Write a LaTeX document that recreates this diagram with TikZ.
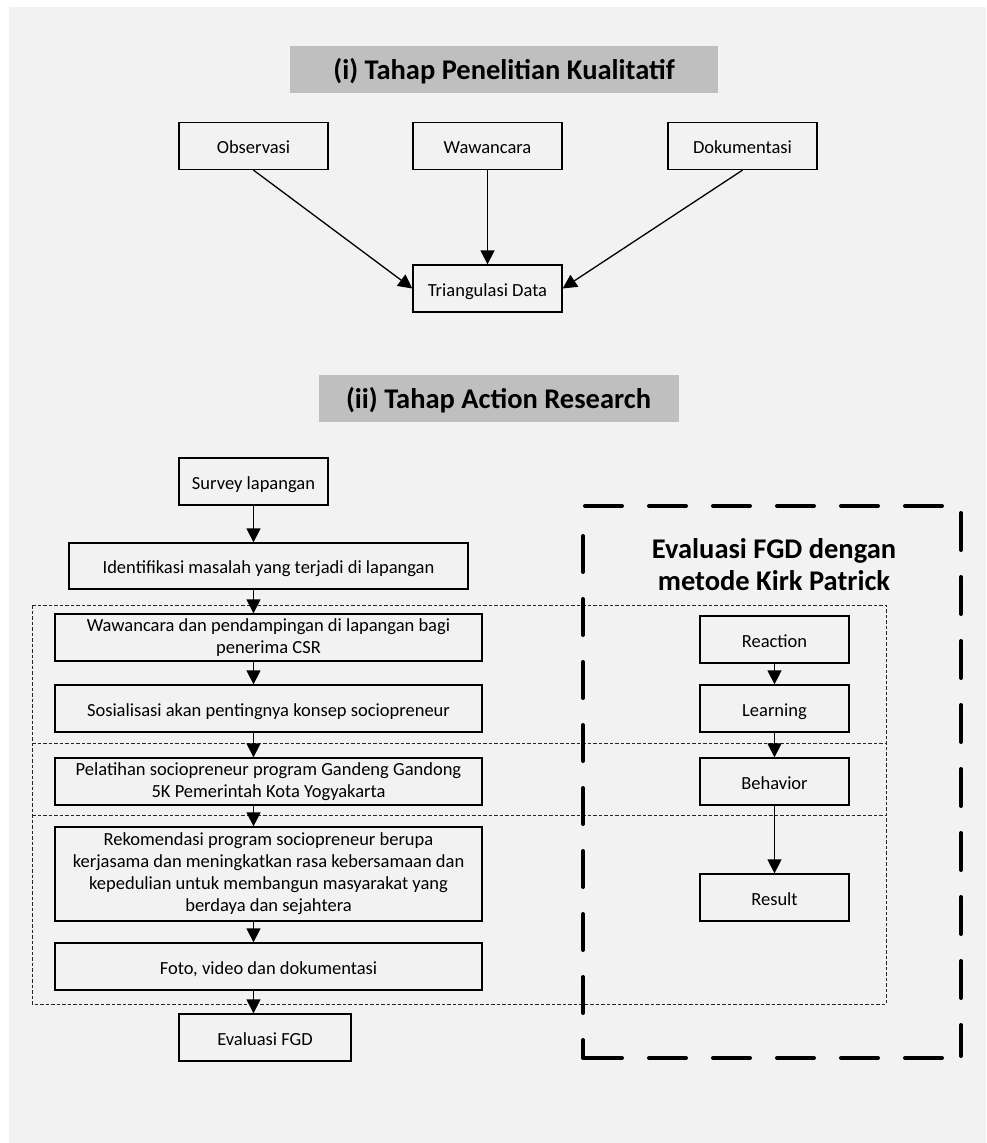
\documentclass[tikz,border=0pt]{standalone}
\usepackage{fontspec}
\setmainfont{Carlito}
\usetikzlibrary{arrows.meta}
\definecolor{bggray}{HTML}{F2F2F2}
\definecolor{titlegray}{HTML}{BFBFBF}
\begin{document}
\begin{tikzpicture}[x=1pt,y=-1pt,
  box/.style={draw=black, line width=1.3pt, inner sep=0pt, align=center,
    font=\fontsize{18.5}{22}\selectfont},
  onel/.style={text height=15pt, text depth=0pt},
  stdbox/.style={box, onel, minimum width=149pt, minimum height=47pt},
  widebox/.style={box, minimum width=427pt, minimum height=47pt},
  titlebox/.style={fill=titlegray, inner sep=0pt, text height=20pt, text depth=0pt,
    font=\bfseries\fontsize{28.5}{32}\selectfont},
  arr/.style={line width=1.3pt, -{Triangle[length=14pt,width=14pt]}},
  thindash/.style={draw=black!85, line width=0.8pt, dash pattern=on 3.5pt off 2pt},
  bigdash/.style={line width=4pt, line cap=round, dash pattern=on 37pt off 27pt}]
\useasboundingbox (0,0) rectangle (986,1143);
\fill[white] (0,0) rectangle (986,1143);
\fill[bggray] (9,7) rectangle (986,1143);

% Section (i)
\node[titlebox, minimum width=428pt, minimum height=47pt] (t1) at (504,69.5) {(i) Tahap Penelitian Kualitatif};
\node[stdbox] (obs) at (253.5,146) {Observasi};
\node[stdbox] (waw) at (487.5,146) {Wawancara};
\node[stdbox] (dok) at (742.5,146) {Dokumentasi};
\node[stdbox] (tri) at (487.5,288.5) {Triangulasi Data};
\draw[arr] (obs.south) -- (tri.west);
\draw[arr] (waw.south) -- (tri.north);
\draw[arr] (dok.south) -- (tri.east);

% Section (ii)
\node[titlebox, minimum width=360pt, minimum height=47pt] (t2) at (498.5,398.5) {(ii) Tahap Action Research};

% thin dashed container
\draw[thindash] (32,605) rectangle (886,1004);
\draw[thindash] (32,743) -- (886,743);
\draw[thindash] (32,815) -- (886,815);

\node[stdbox] (survey) at (253.5,481.5) {Survey lapangan};
\node[box, onel, minimum width=399pt, minimum height=46pt] (ident) at (268.5,566) {Identifikasi masalah yang terjadi di lapangan};
\node[widebox] (wp) at (268.5,637.5) {Wawancara dan pendampingan di lapangan bagi\\penerima CSR};
\node[widebox, onel] (sos) at (268.5,708.5) {Sosialisasi akan pentingnya konsep sociopreneur};
\node[widebox] (pel) at (268.5,781.5) {Pelatihan sociopreneur program Gandeng Gandong\\5K Pemerintah Kota Yogyakarta};
\node[widebox, minimum height=94pt] (rek) at (268.5,874) {Rekomendasi program sociopreneur berupa\\kerjasama dan meningkatkan rasa kebersamaan dan\\kepedulian untuk membangun masyarakat yang\\berdaya dan sejahtera};
\node[widebox, onel] (foto) at (268.5,966.5) {Foto, video dan dokumentasi};
\node[box, onel, minimum width=172pt, minimum height=47pt] (evf) at (265,1037.5) {Evaluasi FGD};

\draw[arr] (survey.south) -- (survey.south |- ident.north);
\draw[arr] (survey.south |- ident.south) -- (survey.south |- wp.north);
\draw[arr] (survey.south |- wp.south) -- (survey.south |- sos.north);
\draw[arr] (survey.south |- sos.south) -- (survey.south |- pel.north);
\draw[arr] (survey.south |- pel.south) -- (survey.south |- rek.north);
\draw[arr] (survey.south |- rek.south) -- (survey.south |- foto.north);
\draw[arr] (survey.south |- foto.south) -- (survey.south |- evf.north);

% Kirk Patrick evaluation
\draw[bigdash] (585,506) -- (961,506);
\draw[bigdash] (585,1058) -- (961,1058);
\draw[bigdash] (961,513) -- (961,1056);
\draw[bigdash, dash pattern=on 36pt off 27pt, dash phase=18pt] (583,1058) -- (583,528);
\node[align=center, inner sep=0pt, font=\bfseries\fontsize{28.5}{32}\selectfont] (kirk) at (774,565) {Evaluasi FGD dengan\\metode Kirk Patrick};
\node[stdbox] (react) at (774.5,639.5) {Reaction};
\node[stdbox] (learn) at (774.5,708.5) {Learning};
\node[stdbox] (behav) at (774.5,781.5) {Behavior};
\node[stdbox] (result) at (774.5,897.5) {Result};
\draw[arr] (react.south) -- (learn.north);
\draw[arr] (learn.south) -- (behav.north);
\draw[arr] (behav.south) -- (result.north);
\end{tikzpicture}
\end{document}
